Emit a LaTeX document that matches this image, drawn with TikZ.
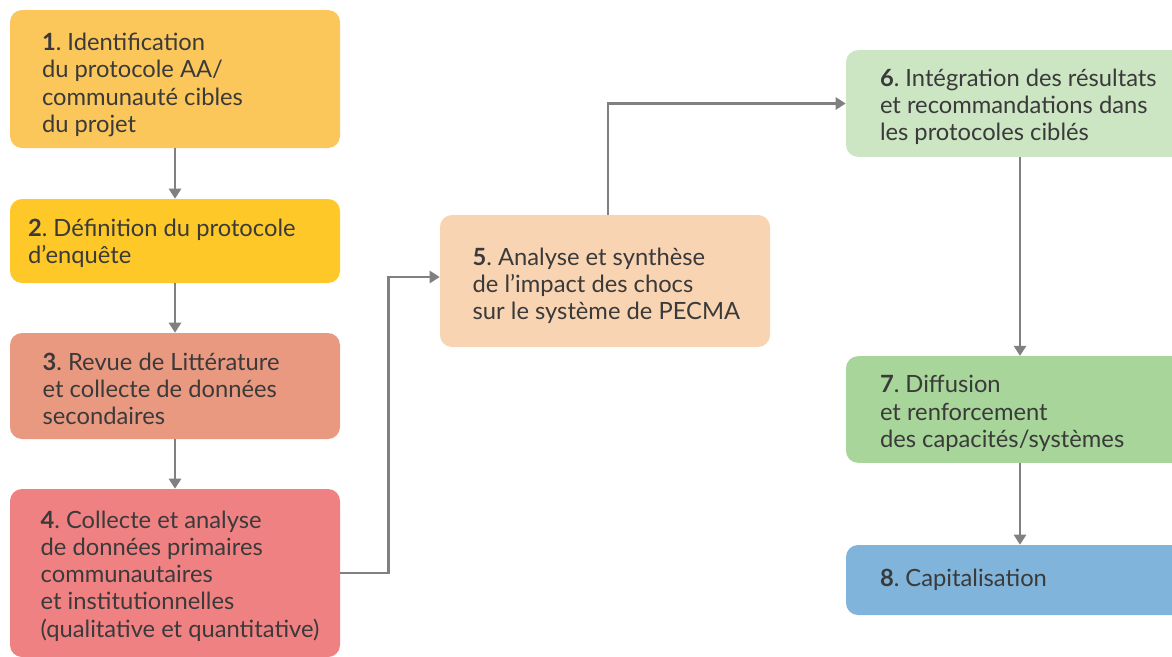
\documentclass[tikz,border=0pt]{standalone}
\usepackage{fontspec}
\setmainfont{Lato}
\usepackage{xcolor}
\usepackage{tikz}
\usetikzlibrary{arrows.meta,positioning}
\definecolor{stepA}{HTML}{FBC75B}
\definecolor{stepB}{HTML}{FDC828}
\definecolor{stepC}{HTML}{EA9981}
\definecolor{stepD}{HTML}{F08183}
\definecolor{stepE}{HTML}{F8D4B2}
\definecolor{stepF}{HTML}{CCE5C3}
\definecolor{stepG}{HTML}{A8D59A}
\definecolor{stepH}{HTML}{80B4DA}
\definecolor{txtgray}{HTML}{3A3A3A}
\definecolor{linegray}{HTML}{808080}
\tikzset{
  box/.style={rectangle,rounded corners=9pt,inner sep=0pt,draw=none},
  txt/.style={align=left,inner sep=0pt,text=txtgray,
    font=\fontsize{17.8pt}{20.4pt}\selectfont},
  arrow/.style={-{Triangle[length=7.5pt,width=9pt]},draw=linegray,line width=2pt},
}
\newcommand{\num}[1]{\textbf{#1}}

\begin{document}
\frenchspacing
\begin{tikzpicture}[x=0.75pt,y=-0.75pt]
\clip (0,0) rectangle (1172,657);
\fill[white] (0,0) rectangle (1172,657);
% left column
\node[box,fill=stepA,minimum width=247.5pt,minimum height=103.5pt] (b1) at (175,79) {};
\node[box,fill=stepB,minimum width=247.5pt,minimum height=63pt] (b2) at (175,241) {};
\node[box,fill=stepC,minimum width=247.5pt,minimum height=79.5pt] (b3) at (175,386) {};
\node[box,fill=stepD,minimum width=247.5pt,minimum height=126pt] (b4) at (175,573) {};
% middle
\node[box,fill=stepE,minimum width=247.5pt,minimum height=99pt] (b5) at (605,281) {};
% right column
\node[box,fill=stepF,minimum width=261pt,minimum height=80pt] (b6) at (1020,103.5) {};
\node[box,fill=stepG,minimum width=261pt,minimum height=80pt] (b7) at (1020,409.5) {};
\node[box,fill=stepH,minimum width=261pt,minimum height=52.5pt] (b8) at (1020,580) {};

\node[txt,right=24pt of b1.west,yshift=-4.5pt] (t1) {\num{1}. Identification\\du protocole AA/\\communauté cibles\\du projet};
\node[txt,right=13.5pt of b2.west,yshift=-1.5pt] (t2) {\num{2}. Définition du protocole\\d’enquête};
\node[txt,right=24.5pt of b3.west,yshift=-2.25pt] (t3) {\num{3}. Revue de Littérature\\et collecte de données\\secondaires};
\node[txt,right=23pt of b4.west,yshift=-2.25pt] (t4) {\num{4}. Collecte et analyse\\de données primaires\\communautaires\\et institutionnelles\\(qualitative et quantitative)};
\node[txt,right=24.5pt of b5.west,yshift=-3.75pt] (t5) {\num{5}. Analyse et synthèse\\de l’impact des chocs\\sur le système de PECMA};
\node[txt,right=25.5pt of b6.west,yshift=-2.25pt] (t6) {\num{6}. Intégration des résultats\\et recommandations dans\\les protocoles ciblés};
\node[txt,right=25.5pt of b7.west,yshift=-3pt] (t7) {\num{7}. Diffusion\\et renforcement\\des capacités/systèmes};
\node[txt,right=25.5pt of b8.west] (t8) {\num{8}. Capitalisation};

\draw[arrow] (b1) -- (b2);
\draw[arrow] (b2) -- (b3);
\draw[arrow] (b3) -- (b4);
\draw[arrow] (b4.east) -- ++(48,0) |- ([yshift=3pt]b5.west);
\draw[arrow] ([xshift=2.25pt]b5.north) |- (b6.west);
\draw[arrow] (b6) -- (b7);
\draw[arrow] (b7) -- (b8);
\end{tikzpicture}
\end{document}
